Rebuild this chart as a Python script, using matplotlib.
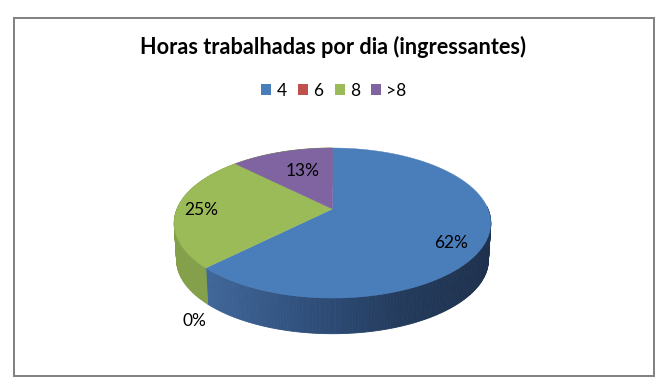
import numpy as np
import matplotlib.pyplot as plt
from matplotlib.patches import Patch, Rectangle

title = 'Horas trabalhadas por dia (ingressantes)'
categories = ['4', '6', '8', '>8']
values = [62.5, 0, 25, 12.5]
pct_labels = ['62%', '0%', '25%', '13%']
colors = ['#4A7EBB', '#C0504D', '#9BBB59', '#8064A2']

plt.rcParams['font.family'] = ['Lato', 'DejaVu Sans']


# fake 3d: circle seen in perspective, apex of the pie at (cx, cy) in pixels
def project(theta, r=1.0, scale=1.0, drop=0.0):
    cx, cy = 332.5, 209
    a, b, k = 155.5, 72.4, 0.187
    u = r * np.sin(theta)
    v = r * np.cos(theta)
    d = 1 + k * v
    return cx + scale * a * u / d, cy - scale * b * v / d + drop


def side_color(x):
    xs = [205, 332, 400, 491]
    cs = np.array([[0x40, 0x67, 0x9A], [0x2C, 0x4A, 0x74], [0x24, 0x3B, 0x5C], [0x1E, 0x31, 0x4E]]) / 255
    return [np.interp(x, xs, cs[:, i]) for i in range(3)]


fig = plt.figure(figsize=(6.72, 3.8), dpi=100)
ax = fig.add_axes([0, 0, 1, 1])
ax.set_xlim(0, 672)
ax.set_ylim(380, 0)
ax.axis('off')

ax.add_patch(Rectangle((13.5, 17.5), 640, 358, fc='white', ec='#808080', lw=1.4))

edges = np.radians(np.cumsum([0] + values) / 100 * 360)

# side wall, only what faces the viewer
for i in range(len(values)):
    if values[i] == 0:
        continue
    t = np.arange(edges[i], edges[i + 1] + 1e-6, np.radians(1))
    for t0, t1 in zip(t[:-1], t[1:]):
        tt = np.array([t0, t1])
        if np.sin(tt).max() > 0 and np.cos(tt).max() > 0.05:
            continue
        x0, y0 = project(tt)
        x1, y1 = project(tt, scale=0.985, drop=37)
        if i == 0:
            c = side_color(x0.mean())
        else:
            c = '#84A04A'
        ax.fill([x0[0], x0[1], x1[1], x1[0]], [y0[0], y0[1], y1[1], y1[0]],
                fc=c, ec=c, lw=0.6)

# top face
for i in range(len(values)):
    if values[i] == 0:
        continue
    t = np.linspace(edges[i], edges[i + 1], 120)
    x, y = project(t)
    x0, y0 = project(0.0, r=0.0)
    ax.fill(np.r_[x0, x], np.r_[y0, y], fc=colors[i], ec=colors[i], lw=0.3)

label_pos = [(451, 243), (194, 321), (201, 210), (303, 171)]
for lab, (lx, ly) in zip(pct_labels, label_pos):
    ax.text(lx, ly, lab, ha='center', va='center', fontsize=12.5, color='black')

ax.text(333, 46.5, title, ha='center', va='center', fontsize=15.6,
        fontweight='bold', color='black')

handles = [Patch(fc=c, ec='none') for c in colors]
fig.legend(handles, categories, ncol=4, loc='center',
           bbox_to_anchor=(334 / 672, 1 - 91 / 380), frameon=False,
           fontsize=12.5, handlelength=0.58, handleheight=0.58,
           handletextpad=0.3, columnspacing=0.65, borderpad=0)

fig.savefig('out.png', dpi=100)
